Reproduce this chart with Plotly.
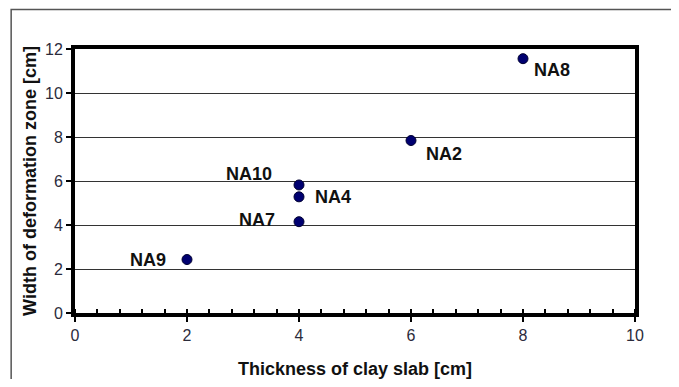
import plotly.graph_objects as go

# samples
names = ["NA9", "NA7", "NA4", "NA10", "NA2", "NA8"]
thickness = [2, 4, 4, 4, 6, 8]
width = [2.43, 4.15, 5.28, 5.82, 7.84, 11.56]

# label placement next to each dot (pixels): xanchor, xshift, yshift
label_pos = {
    "NA9": ("right", -19, 0),
    "NA7": ("right", -22, 2),
    "NA4": ("left", 14, 0),
    "NA10": ("right", -25, 11),
    "NA2": ("left", 13, -13),
    "NA8": ("left", 9, -11),
}

FONT = "Arial, Liberation Sans"

fig = go.Figure()

fig.add_trace(go.Scatter(
    x=thickness, y=width, mode="markers",
    marker=dict(color="#000070", size=10, line=dict(color="#000030", width=1)),
    showlegend=False,
))

for n, xv, yv in zip(names, thickness, width):
    anchor, dx, dy = label_pos[n]
    fig.add_annotation(x=xv, y=yv, text="<b>" + n + "</b>", showarrow=False,
                       xanchor=anchor, yanchor="middle", xshift=dx, yshift=dy,
                       font=dict(family=FONT, size=18, color="#111"))

# outer frame around the whole chart (left and top edges only show)
fig.add_shape(type="rect", xref="paper", yref="paper",
              x0=-0.114, x1=1.2, y0=-0.3, y1=1.15,
              line=dict(color="#555", width=1.5), layer="below")

fig.update_xaxes(
    range=[0, 10], dtick=2, showgrid=False, zeroline=False, automargin=False,
    showline=True, linecolor="black", linewidth=4, mirror=True,
    ticks="outside", ticklen=5, tickcolor="black", tickwidth=1.5,
    minor=dict(dtick=0.4, ticks="inside", ticklen=4, tickcolor="black", tickwidth=1.5),
    tickfont=dict(family=FONT, size=16, color="#2b2b3b"),
    title=dict(text="<b>Thickness of clay slab [cm]</b>", standoff=20,
               font=dict(family=FONT, size=18, color="#111")),
)
fig.update_yaxes(
    range=[0, 12], dtick=2, showgrid=True, gridcolor="#333", gridwidth=1,
    zeroline=False, automargin=False,
    showline=True, linecolor="black", linewidth=4, mirror=True,
    ticks="outside", ticklen=5, tickcolor="black", tickwidth=1.5,
    tickfont=dict(family=FONT, size=16, color="#2b2b3b"),
    title=dict(text="<b>Width of deformation zone [cm]</b>", standoff=5,
               font=dict(family=FONT, size=18, color="#111")),
)

# the page adds 8px around the figure, so the figure is a bit smaller
fig.update_layout(
    width=671, height=371,
    margin=dict(l=67, r=44, t=41, b=66),
    plot_bgcolor="white", paper_bgcolor="white",
)

fig.write_html("out.html")
